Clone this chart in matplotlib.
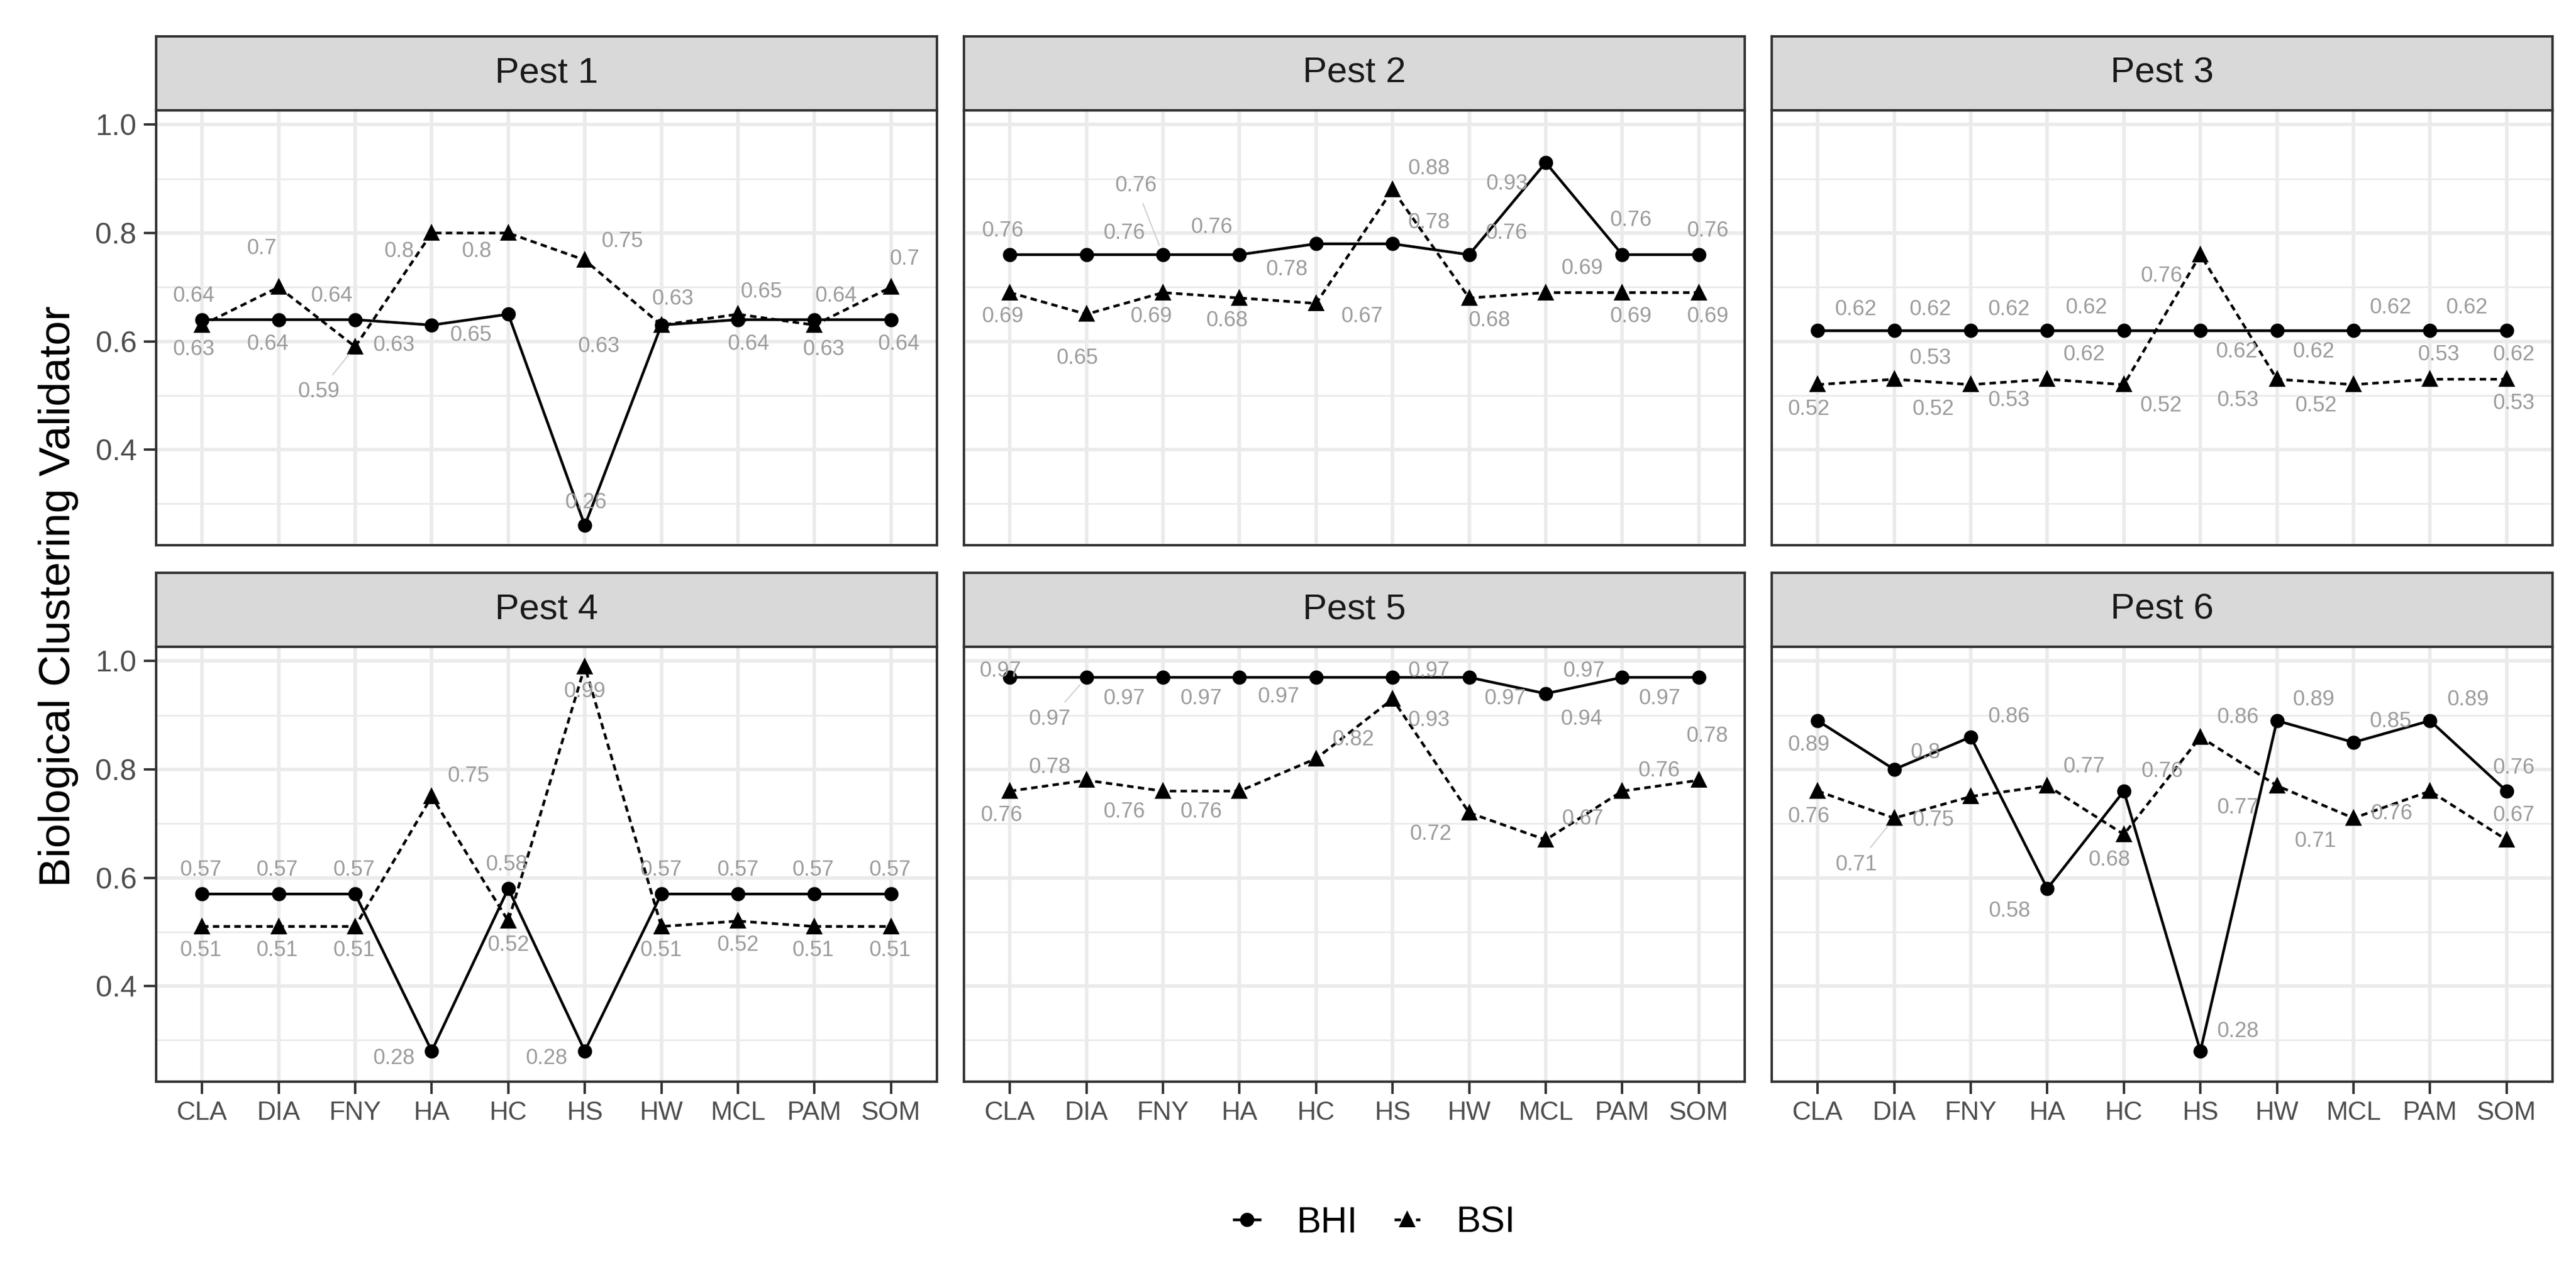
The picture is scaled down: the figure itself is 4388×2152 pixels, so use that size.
import matplotlib
matplotlib.use("Agg")
import matplotlib.pyplot as plt
from matplotlib.lines import Line2D

plt.rcParams['font.family'] = ['Liberation Sans', 'DejaVu Sans']

# ---- data ----
methods = ["CLA", "DIA", "FNY", "HA", "HC", "HS", "HW", "MCL", "PAM", "SOM"]
pest_names = ["Pest 1", "Pest 2", "Pest 3", "Pest 4", "Pest 5", "Pest 6"]
y_ticks = [0.4, 0.6, 0.8, 1.0]
y_tick_labels = ["0.4", "0.6", "0.8", "1.0"]

pest1_bhi = [0.64, 0.64, 0.64, 0.63, 0.65, 0.26, 0.63, 0.64, 0.64, 0.64]
pest1_bsi = [0.63, 0.70, 0.59, 0.80, 0.80, 0.75, 0.63, 0.65, 0.63, 0.70]
pest2_bhi = [0.76, 0.76, 0.76, 0.76, 0.78, 0.78, 0.76, 0.93, 0.76, 0.76]
pest2_bsi = [0.69, 0.65, 0.69, 0.68, 0.67, 0.88, 0.68, 0.69, 0.69, 0.69]
pest3_bhi = [0.62, 0.62, 0.62, 0.62, 0.62, 0.62, 0.62, 0.62, 0.62, 0.62]
pest3_bsi = [0.52, 0.53, 0.52, 0.53, 0.52, 0.76, 0.53, 0.52, 0.53, 0.53]
pest4_bhi = [0.57, 0.57, 0.57, 0.28, 0.58, 0.28, 0.57, 0.57, 0.57, 0.57]
pest4_bsi = [0.51, 0.51, 0.51, 0.75, 0.52, 0.99, 0.51, 0.52, 0.51, 0.51]
pest5_bhi = [0.97, 0.97, 0.97, 0.97, 0.97, 0.97, 0.97, 0.94, 0.97, 0.97]
pest5_bsi = [0.76, 0.78, 0.76, 0.76, 0.82, 0.93, 0.72, 0.67, 0.76, 0.78]
pest6_bhi = [0.89, 0.80, 0.86, 0.58, 0.76, 0.28, 0.89, 0.85, 0.89, 0.76]
pest6_bsi = [0.76, 0.71, 0.75, 0.77, 0.68, 0.86, 0.77, 0.71, 0.76, 0.67]

# ---- repelled label offsets (pixels, dx right, dy down) ----
pest1_bhi_off = [(-14, -40), (-18, 42), (-40, -40), (-64, 35), (-64, 36),
                 (2, -39), (20, -44), (18, 42), (37, -40), (14, 42)]
pest1_bsi_off = [(-14, 42), (-29, -66), (-62, 77), (-55, 31), (-54, 31),
                 (64, -32), (-106, 37), (40, -38), (16, 42), (23, -48)]
pest2_bhi_off = [(-12, -40), (65, -36), (-46, -117), (-47, -46), (-49, 44),
                 (62, -36), (64, -36), (-66, 36), (15, -58), (15, -40)]
pest2_bsi_off = [(-12, 41), (-15, 75), (-20, 41), (-21, 39), (78, 23),
                 (62, -36), (35, 39), (62, -41), (15, 41), (15, 41)]
pest3_bhi_off = [(65, -36), (62, -36), (65, -36), (67, -39), (-68, 41),
                 (62, 36), (63, 36), (63, -39), (63, -39), (12, 41)]
pest3_bsi_off = [(-15, 42), (62, -36), (-64, 42), (-65, 36), (63, 36),
                 (-66, 37), (-66, 36), (-64, 36), (15, -42), (12, 41)]
pest4_bhi_off = [(-2, -41), (-2, -41), (-2, -41), (-64, 13), (-2, -41),
                 (-65, 13), (0, -41), (0, -41), (-2, -41), (-2, -41)]
pest4_bsi_off = [(-2, 41), (-2, 41), (-2, 41), (63, -35), (0, 41),
                 (0, 43), (0, 41), (0, 41), (-2, 41), (-2, 41)]
pest5_bhi_off = [(-16, -11), (-62, 71), (-66, 36), (-65, 36), (-64, 33),
                 (62, -11), (62, 36), (61, 44), (-65, -11), (-67, 36)]
pest5_bsi_off = [(-14, 42), (-62, -22), (-66, 36), (-65, 36), (64, -32),
                 (62, 36), (-65, 37), (63, -35), (63, -34), (15, -75)]
pest6_bhi_off = [(-15, 42), (53, -29), (65, -34), (-64, 38), (65, -33),
                 (64, -33), (63, -35), (63, -35), (65, -35), (12, -39)]
pest6_bsi_off = [(-15, 44), (-64, 79), (-64, 40), (63, -32), (-24, 44),
                 (64, -33), (-66, 38), (-65, 39), (-65, 39), (12, -41)]

panels = [
    (pest1_bhi, pest1_bsi, pest1_bhi_off, pest1_bsi_off),
    (pest2_bhi, pest2_bsi, pest2_bhi_off, pest2_bsi_off),
    (pest3_bhi, pest3_bsi, pest3_bhi_off, pest3_bsi_off),
    (pest4_bhi, pest4_bsi, pest4_bhi_off, pest4_bsi_off),
    (pest5_bhi, pest5_bsi, pest5_bhi_off, pest5_bsi_off),
    (pest6_bhi, pest6_bsi, pest6_bhi_off, pest6_bsi_off),
]

# ---- layout (pixels of the 4388x2152 canvas) ----
W, H = 4388, 2152
DPI = 300
col_left = [266, 1642, 3018]
row_top = [188, 1102]
panel_w, panel_h, strip_h = 1330, 741, 126

BORDER = '#333333'
GRID = '#EBEBEB'
LABEL_GREY = '#9B9B9B'
DASH = (0, (2.4, 1.6))
LW = 1.1


def rect(left, top, w, h):
    return [left / W, 1 - (top + h) / H, w / W, h / H]


def draw_labels(ax, values, offsets):
    for j, (v, (dx, dy)) in enumerate(zip(values, offsets)):
        leader = abs(dy) > 70 and abs(dx) > 40
        ax.annotate(f"{v:g}", (j, v), xytext=(dx, -dy),
                    textcoords='offset pixels', ha='center', va='center',
                    fontsize=8.8, color=LABEL_GREY, zorder=5,
                    arrowprops=dict(arrowstyle='-', color='#D0D0D0', lw=0.5,
                                    shrinkA=1, shrinkB=4) if leader else None)


fig = plt.figure(figsize=(W / DPI, H / DPI), dpi=DPI)
x = list(range(len(methods)))

for i, (bhi, bsi, bhi_off, bsi_off) in enumerate(panels):
    r, c = divmod(i, 3)
    left, top = col_left[c], row_top[r]

    ax = fig.add_axes(rect(left, top, panel_w, panel_h))
    ax.set_xlim(-0.6, 9.6)
    ax.set_ylim(0.2235, 1.0265)
    ax.set_xticks(x)
    ax.set_xticklabels(methods)
    ax.set_yticks(y_ticks)
    ax.set_yticklabels(y_tick_labels)
    ax.set_yticks([0.3, 0.5, 0.7, 0.9], minor=True)
    ax.grid(which='major', color=GRID, lw=1.45)
    ax.grid(which='minor', axis='y', color=GRID, lw=0.72)
    ax.set_axisbelow(True)
    for s in ax.spines.values():
        s.set_color(BORDER)
        s.set_linewidth(1.0)
    ax.tick_params(which='minor', length=0)
    ax.tick_params(axis='x', which='major', length=5, width=1.0, color=BORDER,
                   labelcolor='#4D4D4D', labelsize=10.7, pad=3)
    ax.tick_params(axis='y', which='major', length=5, width=1.0, color=BORDER,
                   labelcolor='#4D4D4D', labelsize=12.1, pad=3)
    if c != 0:
        ax.tick_params(axis='y', which='major', length=0, labelleft=False)
    if r == 0:
        ax.tick_params(axis='x', which='major', length=0, labelbottom=False)

    ax.plot(x, bhi, color='black', lw=LW, marker='o', ms=4.8, zorder=3)
    ax.plot(x, bsi, color='black', lw=LW, ls=DASH, marker='^', ms=5.5, zorder=3)

    draw_labels(ax, bhi, bhi_off)
    draw_labels(ax, bsi, bsi_off)

    # facet strip
    sax = fig.add_axes(rect(left, top - strip_h, panel_w, strip_h))
    sax.set_facecolor('#D9D9D9')
    sax.set_xticks([])
    sax.set_yticks([])
    for s in sax.spines.values():
        s.set_color(BORDER)
        s.set_linewidth(1.0)
    sax.text(0.5, 0.5, pest_names[i], ha='center', va='center',
             fontsize=14.9, color='#1A1A1A', transform=sax.transAxes)

fig.text(100 / W, 1 - 1016 / H, "Biological Clustering Validator",
         rotation=90, ha='center', va='center', fontsize=18, color='black')

handles = [
    Line2D([], [], color='black', lw=LW, marker='o', ms=4.8),
    Line2D([], [], color='black', lw=LW, ls=DASH, marker='^', ms=5.5),
]
fig.legend(handles, ["BHI", "BSI"], loc='center',
           bbox_to_anchor=(2342 / W, 1 - 2083 / H), ncol=2, frameon=False,
           fontsize=15, handlelength=0.7, handletextpad=1.0, columnspacing=1.0)

fig.savefig("out.png", dpi=DPI)
